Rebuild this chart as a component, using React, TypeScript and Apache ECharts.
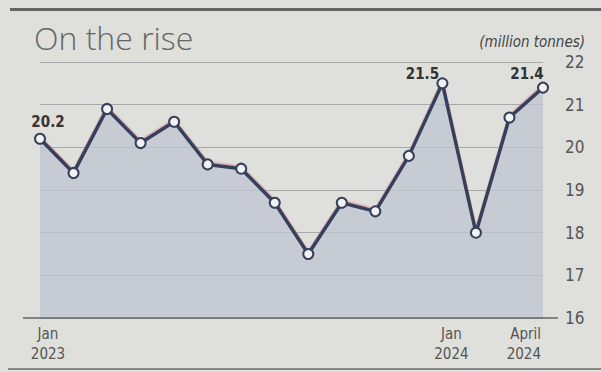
import React, { useEffect, useRef } from "react";
import * as echarts from "echarts";

const months = [
  "Jan 2023", "Feb 2023", "Mar 2023", "Apr 2023", "May 2023", "Jun 2023",
  "Jul 2023", "Aug 2023", "Sep 2023", "Oct 2023", "Nov 2023", "Dec 2023",
  "Jan 2024", "Feb 2024", "Mar 2024", "Apr 2024",
];
const values = [20.2, 19.4, 20.9, 20.1, 20.6, 19.6, 19.5, 18.7, 17.5, 18.7, 18.5, 19.8, 21.5, 18.0, 20.7, 21.4];
const tickLabels: Record<number, string> = { 0: "Jan\n2023", 12: "Jan\n2024", 15: "April\n2024" };
const labelledPoints = [0, 12, 15];
const yTicks = { min: 16, max: 22, step: 1 };

const FONT = "'Liberation Sans Narrow', 'DejaVu Sans Condensed', 'Roboto', sans-serif";
const NAVY = "#34405c";

export default function App() {
  const ref = useRef<HTMLDivElement>(null);
  useEffect(() => {
    if (!ref.current) return;
    const chart = echarts.init(ref.current, null, { renderer: "svg" });
    const labelOffsets: Record<number, number[]> = { 0: [8, 2], 12: [-20, 9], 15: [-16, 5] };
    const itemStyles: Record<number, any> = {
      0: { align: "center", padding: [0, 0, 0, 16] },
      12: { align: "center", padding: [0, 0, 0, 18] },
      15: { align: "right", padding: [0, 2, 0, 0] },
    };
    chart.setOption({
      animation: false,
      backgroundColor: "#dfdfdc",
      title: {
        text: "On the rise",
        left: 29,
        top: 16,
        textStyle: { fontFamily: "'Open Sans', sans-serif", fontWeight: 300, fontSize: 32, color: "#666" },
      },
      grid: { left: 40, right: 58, top: 62, bottom: 54 },
      xAxis: {
        type: "category",
        boundaryGap: false,
        data: months.map((m, i) => ({ value: m, textStyle: itemStyles[i] || {} })),
        axisLine: { show: false },
        axisTick: { show: false },
        splitLine: { show: false },
        axisLabel: {
          interval: 0,
          margin: 6,
          formatter: (_v: string, i: number) => tickLabels[i] || "",
          fontFamily: FONT,
          fontSize: 15,
          lineHeight: 20,
          color: "#555",
        },
      },
      yAxis: {
        type: "value",
        position: "right",
        min: yTicks.min,
        max: yTicks.max,
        interval: yTicks.step,
        axisLine: { show: false },
        axisTick: { show: false },
        splitLine: { lineStyle: { color: "#a8a8a8", width: 1 } },
        axisLabel: { margin: 22, fontFamily: FONT, fontSize: 17, color: "#555" },
      },
      graphic: [
        { type: "rect", left: 10, top: 8, shape: { width: 591, height: 3 }, style: { fill: "#666" }, silent: true },
        { type: "rect", left: 8, top: 368, shape: { width: 593, height: 2 }, style: { fill: "#888" }, silent: true },
        { type: "line", shape: { x1: 23, y1: 318, x2: 558, y2: 318 }, style: { stroke: "#666", lineWidth: 1.5 }, silent: true, z: 10 },
        {
          type: "text",
          right: 16,
          top: 34,
          style: { text: "(million tonnes)", font: `italic 15px ${FONT}`, fill: "#444" },
        },
      ],
      series: [
        {
          type: "line",
          data: values.map((v, i) =>
            labelledPoints.includes(i)
              ? {
                  value: v,
                  label: {
                    show: true,
                    position: "top",
                    offset: labelOffsets[i],
                    formatter: "{c}",
                    fontFamily: FONT,
                    fontWeight: "bold",
                    fontSize: 15,
                    color: "#333",
                  },
                }
              : v
          ),
          symbol: "circle",
          symbolSize: 10,
          itemStyle: { color: "#f2f2f2", borderColor: NAVY, borderWidth: 2 },
          lineStyle: { color: NAVY, width: 3.5, shadowColor: "rgba(200,120,140,0.55)", shadowOffsetY: -1.5, shadowBlur: 0 },
          areaStyle: { color: "#bfc6d1", opacity: 0.75 },
          z: 5,
        },
      ],
    });
    return () => chart.dispose();
  }, []);
  return <div ref={ref} style={{ position: "fixed", left: 0, top: 0, width: 601, height: 372 }} />;
}
